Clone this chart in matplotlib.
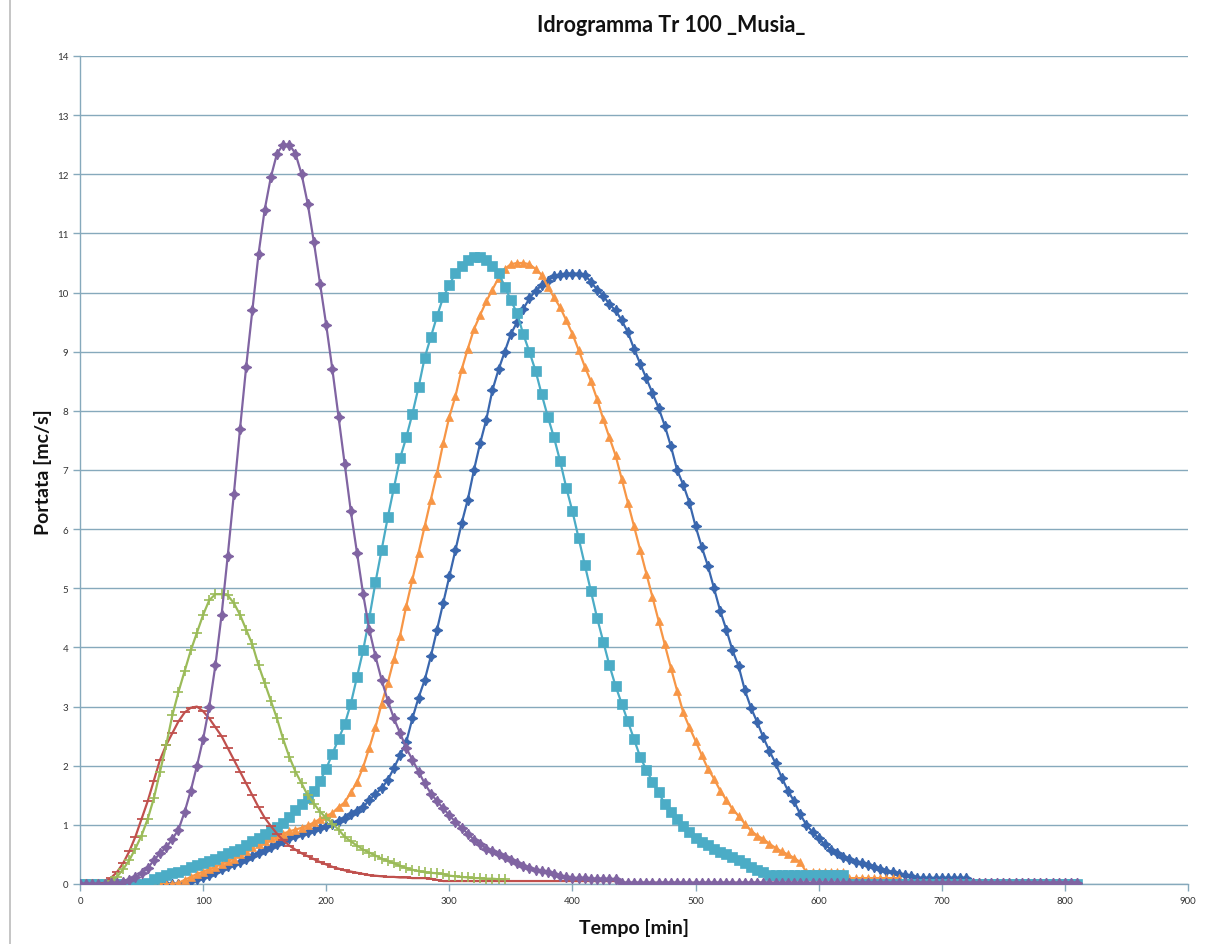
import matplotlib
matplotlib.use("Agg")
import matplotlib.pyplot as plt
from matplotlib.lines import Line2D

# ---------------- data (time step 5 min) ----------------
tempo = list(range(0, 815, 5))          # 0 .. 810 min
tempo_verde = list(range(0, 350, 5))    # 0 .. 345 min

blu = [0, 0, 0, 0, 0, 0, 0, 0, 0, 0, 0, 0, 0, 0, 0, 0, 0,
       0.02, 0.05, 0.08, 0.11, 0.16, 0.2, 0.25, 0.3, 0.34, 0.38, 0.42, 0.47, 0.52, 0.57, 0.62, 0.67,
       0.72, 0.77, 0.81, 0.85, 0.88, 0.92, 0.95, 0.98, 1.02, 1.06, 1.12, 1.18, 1.24, 1.3, 1.42, 1.52,
       1.62, 1.76, 1.96, 2.18, 2.4, 2.8, 3.15, 3.45, 3.85, 4.3, 4.75, 5.2, 5.65, 6.1, 6.5, 7.0,
       7.45, 7.85, 8.35, 8.7, 9.0, 9.3, 9.5, 9.72, 9.9, 10.03, 10.12, 10.2, 10.28, 10.3, 10.32, 10.32,
       10.32, 10.3, 10.18, 10.05, 9.95, 9.8, 9.7, 9.53, 9.33, 9.05, 8.8, 8.55, 8.3, 8.05, 7.75, 7.4,
       7.0, 6.75, 6.45, 6.05, 5.7, 5.38, 5.0, 4.62, 4.3, 3.95, 3.68, 3.28, 2.98, 2.74, 2.48, 2.25,
       2.04, 1.8, 1.58, 1.4, 1.18, 1.0, 0.88, 0.77, 0.67, 0.58, 0.52, 0.46, 0.42, 0.38, 0.35, 0.32,
       0.28, 0.25, 0.22, 0.2, 0.17, 0.15, 0.13,
       0.1, 0.1, 0.1, 0.1, 0.1, 0.1, 0.1, 0.1, 0.1,
       0, 0, 0, 0, 0, 0, 0, 0, 0, 0, 0, 0, 0, 0, 0, 0, 0, 0]

arancio = [0, 0, 0, 0, 0, 0, 0, 0, 0, 0, 0, 0, 0, 0, 0, 0,
           0.02, 0.07, 0.12, 0.17, 0.21, 0.25, 0.29, 0.34, 0.39, 0.43, 0.5, 0.56, 0.62, 0.68, 0.73, 0.77,
           0.81, 0.85, 0.89, 0.92, 0.95, 0.99, 1.04, 1.1, 1.15, 1.2, 1.3, 1.38, 1.55, 1.72, 1.98, 2.3,
           2.65, 3.05, 3.4, 3.8, 4.2, 4.7, 5.15, 5.6, 6.05, 6.5, 6.95, 7.45, 7.9, 8.25, 8.7, 9.05,
           9.38, 9.62, 9.85, 10.05, 10.25, 10.4, 10.48, 10.5, 10.5, 10.48, 10.4, 10.3, 10.1, 9.92, 9.75, 9.53,
           9.3, 9.03, 8.75, 8.5, 8.2, 7.86, 7.55, 7.25, 6.85, 6.45, 6.05, 5.65, 5.25, 4.85, 4.45, 4.05,
           3.65, 3.27, 2.9, 2.65, 2.42, 2.18, 1.95, 1.78, 1.58, 1.42, 1.27, 1.15, 1.02, 0.9, 0.82, 0.76,
           0.68, 0.61, 0.55, 0.5, 0.44, 0.37,
           0.2, 0.2, 0.2, 0.2, 0.2, 0.2, 0.2,
           0.1, 0.1, 0.1, 0.1, 0.1, 0.1, 0.1, 0.1, 0.1,
           0, 0, 0, 0, 0, 0, 0, 0, 0, 0, 0, 0, 0, 0, 0, 0, 0, 0, 0, 0, 0, 0, 0, 0, 0, 0, 0, 0, 0]

azzurro = [0, 0, 0, 0, 0, 0, 0, 0, 0, 0, 0,
           0.02, 0.08, 0.12, 0.15, 0.18, 0.21, 0.24, 0.28, 0.32, 0.35, 0.39, 0.43, 0.47, 0.52, 0.56, 0.6,
           0.66, 0.72, 0.78, 0.84, 0.9, 0.96, 1.03, 1.13, 1.25, 1.36, 1.45, 1.57, 1.74, 1.95, 2.2, 2.45,
           2.7, 3.05, 3.5, 3.95, 4.5, 5.1, 5.65, 6.2, 6.7, 7.2, 7.55, 7.95, 8.4, 8.9, 9.25, 9.6,
           9.92, 10.13, 10.33, 10.45, 10.55, 10.6, 10.6, 10.55, 10.45, 10.33, 10.1, 9.87, 9.65, 9.3, 9.0, 8.68,
           8.28, 7.9, 7.55, 7.15, 6.7, 6.3, 5.85, 5.4, 4.95, 4.5, 4.1, 3.7, 3.35, 3.05, 2.75, 2.45,
           2.15, 1.93, 1.73, 1.55, 1.35, 1.22, 1.1, 0.98, 0.88, 0.78, 0.71, 0.66, 0.6, 0.54, 0.5, 0.46,
           0.41, 0.35, 0.28, 0.24, 0.2,
           0.16, 0.16, 0.16, 0.16, 0.16, 0.16, 0.16, 0.16, 0.16, 0.16, 0.16, 0.16, 0.16,
           0, 0, 0, 0, 0, 0, 0, 0, 0, 0, 0, 0, 0, 0, 0, 0, 0, 0, 0,
           0, 0, 0, 0, 0, 0, 0, 0, 0, 0, 0, 0, 0, 0, 0, 0, 0, 0, 0]

viola = [0, 0, 0, 0, 0,
         0.01, 0.02, 0.04, 0.07, 0.12, 0.18, 0.27, 0.4, 0.52, 0.62, 0.76, 0.92, 1.22, 1.58, 2.0, 2.45,
         3.0, 3.7, 4.55, 5.55, 6.6, 7.7, 8.75, 9.7, 10.65, 11.4, 11.95, 12.35, 12.5, 12.5, 12.35, 12.0,
         11.5, 10.85, 10.15, 9.45, 8.7, 7.9, 7.1, 6.3, 5.6, 4.9, 4.3, 3.85, 3.45, 3.1, 2.8, 2.55,
         2.3, 2.1, 1.9, 1.7, 1.53, 1.4, 1.28, 1.16, 1.05, 0.95, 0.85, 0.75, 0.67, 0.6, 0.55, 0.5,
         0.45, 0.4, 0.35, 0.3, 0.27, 0.24, 0.22, 0.2, 0.17, 0.14, 0.12, 0.1, 0.1, 0.1, 0.09, 0.09,
         0.09, 0.08, 0.08,
         0.02, 0.02, 0.02, 0.02, 0.02, 0.02, 0.02, 0.02, 0.02, 0.02, 0.02, 0.02, 0.02, 0.02, 0.02,
         0.02, 0.02, 0.02, 0.02, 0.02, 0.02, 0.02, 0.02, 0.02, 0.02, 0.02, 0.02, 0.02, 0.02, 0.02,
         0.02, 0.02, 0.02, 0.02, 0.02, 0.02, 0.02, 0.02, 0.02, 0.02, 0.02, 0.02, 0.02, 0.02, 0.02,
         0.02, 0.02, 0.02, 0.02, 0.02, 0.02, 0.02, 0.02, 0.02, 0.02, 0.02, 0.02, 0.02, 0.02, 0.02,
         0.02, 0.02, 0.02, 0.02, 0.02, 0.02, 0.02, 0.02, 0.02, 0.02, 0.02, 0.02, 0.02, 0.02, 0.02]

rosso = [0, 0, 0, 0,
         0.02, 0.1, 0.2, 0.35, 0.55, 0.8, 1.1, 1.4, 1.75, 2.1, 2.35, 2.55, 2.75, 2.9, 2.98, 3.0,
         2.92, 2.8, 2.65, 2.5, 2.3, 2.1, 1.9, 1.7, 1.5, 1.3, 1.12, 0.98, 0.85, 0.74, 0.65, 0.58,
         0.52, 0.47, 0.42, 0.37, 0.33, 0.29, 0.26, 0.23, 0.21, 0.19, 0.17, 0.15, 0.14, 0.13, 0.12, 0.12,
         0.11, 0.11, 0.1, 0.1, 0.1, 0.09, 0.07, 0.05,
         0.05, 0.05, 0.05, 0.05, 0.05, 0.05, 0.05, 0.05, 0.05, 0.05, 0.05, 0.05, 0.05, 0.05,
         0.05, 0.05, 0.05, 0.05, 0.05, 0.05, 0.05, 0.05, 0.05, 0.05, 0.05, 0.05, 0.05, 0.05,
         0.02, 0.02, 0.02, 0.02, 0.02, 0.02, 0.02, 0.02, 0.02, 0.02, 0.02, 0.02, 0.02, 0.02, 0.02,
         0.02, 0.02, 0.02, 0.02, 0.02, 0.02, 0.02, 0.02, 0.02, 0.02, 0.02, 0.02, 0.02, 0.02, 0.02,
         0.02, 0.02, 0.02, 0.02, 0.02, 0.02, 0.02, 0.02, 0.02, 0.02, 0.02, 0.02, 0.02, 0.02, 0.02,
         0.02, 0.02, 0.02, 0.02, 0.02, 0.02, 0.02, 0.02, 0.02, 0.02, 0.02, 0.02, 0.02, 0.02, 0.02,
         0.02, 0.02, 0.02, 0.02, 0.02, 0.02, 0.02, 0.02, 0.02, 0.02, 0.02, 0.02, 0.02, 0.02, 0.02]

verde = [0, 0, 0, 0, 0,
         0.05, 0.12, 0.25, 0.4, 0.6, 0.82, 1.1, 1.45, 1.9, 2.35, 2.85, 3.25, 3.6, 3.95, 4.25, 4.55,
         4.8, 4.9, 4.9, 4.88, 4.75, 4.55, 4.3, 4.05, 3.7, 3.4, 3.1, 2.8, 2.45, 2.15, 1.9, 1.7,
         1.5, 1.36, 1.22, 1.12, 1.02, 0.92, 0.8, 0.72, 0.65, 0.58, 0.53, 0.48, 0.43, 0.39, 0.35, 0.31,
         0.27, 0.24, 0.22, 0.2, 0.19, 0.18, 0.17, 0.14, 0.13, 0.12, 0.11, 0.1, 0.1, 0.09, 0.09, 0.08,
         0.08]

for s in (blu, arancio, azzurro, viola, rosso):
    assert len(s) == len(tempo), len(s)
assert len(verde) == len(tempo_verde), len(verde)

x_ticks = list(range(0, 1000, 100))
y_ticks = list(range(0, 15))

titolo = "Idrogramma Tr 100 _Musia_"
x_label = "Tempo [min]"
y_label = "Portata [mc/s]"

# ---------------- figure ----------------
plt.rcParams['font.family'] = ['Lato', 'DejaVu Sans']
fig = plt.figure(figsize=(12.15, 9.45), dpi=100)
ax = fig.add_axes([80/1215, 60/945, (1188-80)/1215, (885-57)/945])

grid_c = '#86A9BC'
ax.set_xlim(0, 900)
ax.set_ylim(0, 14)
ax.set_xticks(x_ticks)
ax.set_yticks(y_ticks)
ax.yaxis.grid(True, color=grid_c, linewidth=1.0)
ax.set_axisbelow(True)
for side in ('top', 'right'):
    ax.spines[side].set_visible(False)
for side in ('left', 'bottom'):
    ax.spines[side].set_color(grid_c)
    ax.spines[side].set_linewidth(1.0)
ax.tick_params(axis='both', colors=grid_c, labelcolor='#333333', labelsize=7,
               length=5, width=1.0, direction='out')

lw = 1.6
ax.plot(tempo, blu, color='#3A67AE', lw=lw, marker=(4, 1, 0), ms=7.5, mew=0.9, zorder=3)
ax.plot(tempo, arancio, color='#F79646', lw=lw, marker='^', ms=5.5, mew=0.5, zorder=4)
ax.plot(tempo, azzurro, color='#4BACC6', lw=lw, marker='s', ms=6.5, mew=0.5, zorder=5)
ax.plot(tempo, rosso, color='#C0504D', lw=lw, marker='_', ms=7, mew=1.3, zorder=6)
ax.plot(tempo_verde, verde, color='#9BBB59', lw=lw, marker='+', ms=7, mew=1.2, zorder=7)
ax.plot(tempo, viola, color='#8064A2', lw=lw, marker=(4, 1, 0), ms=7.5, mew=0.9, zorder=8)

fig.text(671/1215, 1 - 25/945, titolo, ha='center', va='center',
         fontsize=15.5, fontweight='bold', color='#111111')
fig.text(634/1215, 1 - 928/945, x_label, ha='center', va='center',
         fontsize=14, fontweight='bold', color='#111111')
fig.text(43/1215, 1 - 472/945, y_label, ha='center', va='center', rotation=90,
         fontsize=14, fontweight='bold', color='#111111')

fig.add_artist(Line2D([10/1215, 10/1215], [0, 1], transform=fig.transFigure,
                      color='#BBBBBB', lw=1.2))

fig.savefig('out.png', dpi=100)
